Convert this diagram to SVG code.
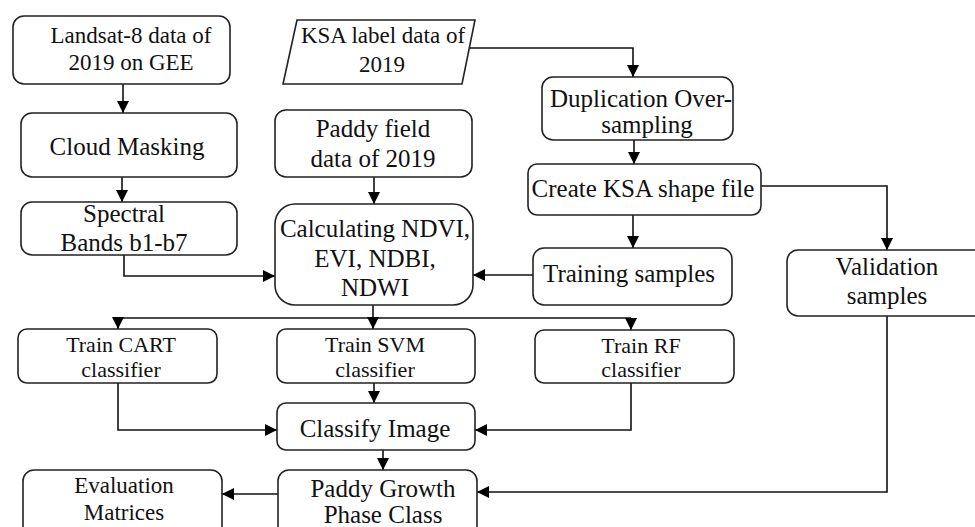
<svg xmlns="http://www.w3.org/2000/svg" width="975" height="527" viewBox="0 0 975 527">
  <style>
    .box { fill: #ffffff; stroke: #222222; stroke-width: 1.6; }
    text { fill: #111111; text-anchor: middle; }
    .lg { font-size: 25px; }
    .md { font-size: 23px; }
    .sm { font-size: 22px; }
    .wire { fill: none; stroke: #111111; stroke-width: 1.6; }
  </style>
  <defs>
    <marker id="arrow" markerUnits="userSpaceOnUse" markerWidth="12" markerHeight="12" refX="12" refY="6" orient="auto">
      <path d="M0,0 L12,6 L0,12 z" fill="#000000"/>
    </marker>
  </defs>
  <rect width="975" height="527" fill="#ffffff"/>

  <!-- connectors -->
  <g id="connectors" class="wire">
    <path d="M123,84 V113" marker-end="url(#arrow)"/>
    <path d="M122,177 V202" marker-end="url(#arrow)"/>
    <path d="M124,255 V276 H275" marker-end="url(#arrow)"/>
    <path d="M374,177 V204" marker-end="url(#arrow)"/>
    <path d="M470,48 H633 V77" marker-end="url(#arrow)"/>
    <path d="M634,140 V164" marker-end="url(#arrow)"/>
    <path d="M633,215 V248" marker-end="url(#arrow)"/>
    <path d="M761,186 H887 V250" marker-end="url(#arrow)"/>
    <path d="M533,275 H473" marker-end="url(#arrow)"/>
    <path d="M373,305 V318"/>
    <path d="M118,318 H631"/>
    <path d="M118,318 V329" marker-end="url(#arrow)"/>
    <path d="M373,318 V329" marker-end="url(#arrow)"/>
    <path d="M631,318 V330" marker-end="url(#arrow)"/>
    <path d="M118,383 V430 H277" marker-end="url(#arrow)"/>
    <path d="M374,383 V403" marker-end="url(#arrow)"/>
    <path d="M631,383 V430 H475" marker-end="url(#arrow)"/>
    <path d="M383,450 V470" marker-end="url(#arrow)"/>
    <path d="M887,316 V492 H477" marker-end="url(#arrow)"/>
    <path d="M278,494 H222" marker-end="url(#arrow)"/>
  </g>

  <g font-family="'Liberation Serif', 'Times New Roman', serif">
  <g id="landsat">
    <rect class="box" x="13" y="16" width="217" height="68" rx="11"/>
    <text class="md" x="131" y="43">Landsat-8 data of</text>
    <text class="md" x="131" y="70">2019 on GEE</text>
  </g>

  <g id="ksa-label">
    <path class="box" d="M297,20 H475 L462,84 H283 Z"/>
    <text class="md" x="383" y="43">KSA label data of</text>
    <text class="md" x="382" y="72">2019</text>
  </g>

  <g id="cloud-masking">
    <rect class="box" x="21" y="113" width="216" height="64" rx="11"/>
    <text class="lg" x="127" y="155">Cloud Masking</text>
  </g>

  <g id="paddy-field">
    <rect class="box" x="275" y="110" width="197" height="67" rx="11"/>
    <text class="lg" x="373" y="137">Paddy field</text>
    <text class="lg" x="373" y="167">data of 2019</text>
  </g>

  <g id="duplication">
    <rect class="box" x="542" y="77" width="191" height="63" rx="11"/>
    <text class="lg" x="641" y="107">Duplication Over-</text>
    <text class="lg" x="647" y="133">sampling</text>
  </g>

  <g id="create-shape">
    <rect class="box" x="528" y="164" width="233" height="51" rx="9"/>
    <text class="lg" x="643" y="197">Create KSA shape file</text>
  </g>

  <g id="spectral">
    <rect class="box" x="21" y="202" width="216" height="53" rx="11"/>
    <text class="lg" x="124" y="222">Spectral</text>
    <text class="lg" x="124" y="251">Bands b1-b7</text>
  </g>

  <g id="indices">
    <rect class="box" x="275" y="204" width="198" height="101" rx="20"/>
    <text class="lg" x="375" y="237">Calculating NDVI,</text>
    <text class="lg" x="375" y="267">EVI, NDBI,</text>
    <text class="lg" x="375" y="296">NDWI</text>
  </g>

  <g id="training">
    <rect class="box" x="533" y="248" width="199" height="57" rx="11"/>
    <text class="lg" x="629" y="282">Training samples</text>
  </g>

  <g id="validation">
    <rect class="box" x="787" y="250" width="200" height="66" rx="11"/>
    <text class="lg" x="887" y="275">Validation</text>
    <text class="lg" x="887" y="304">samples</text>
  </g>

  <g id="cart">
    <rect class="box" x="18" y="329" width="199" height="54" rx="9"/>
    <text class="sm" x="121" y="352">Train CART</text>
    <text class="sm" x="121" y="377">classifier</text>
  </g>

  <g id="svm">
    <rect class="box" x="277" y="329" width="198" height="54" rx="9"/>
    <text class="sm" x="375" y="352">Train SVM</text>
    <text class="sm" x="375" y="377">classifier</text>
  </g>

  <g id="rf">
    <rect class="box" x="535" y="330" width="199" height="53" rx="9"/>
    <text class="sm" x="641" y="353">Train RF</text>
    <text class="sm" x="641" y="377">classifier</text>
  </g>

  <g id="classify">
    <rect class="box" x="277" y="403" width="198" height="47" rx="9"/>
    <text class="lg" x="375" y="437">Classify Image</text>
  </g>

  <g id="growth-phase">
    <rect class="box" x="278" y="470" width="199" height="80" rx="11"/>
    <text class="lg" x="383" y="497">Paddy Growth</text>
    <text class="lg" x="383" y="523">Phase Class</text>
  </g>

  <g id="evaluation">
    <rect class="box" x="23" y="470" width="199" height="80" rx="11"/>
    <text class="md" x="124" y="493">Evaluation</text>
    <text class="md" x="124" y="520">Matrices</text>
  </g>
  </g>
</svg>
